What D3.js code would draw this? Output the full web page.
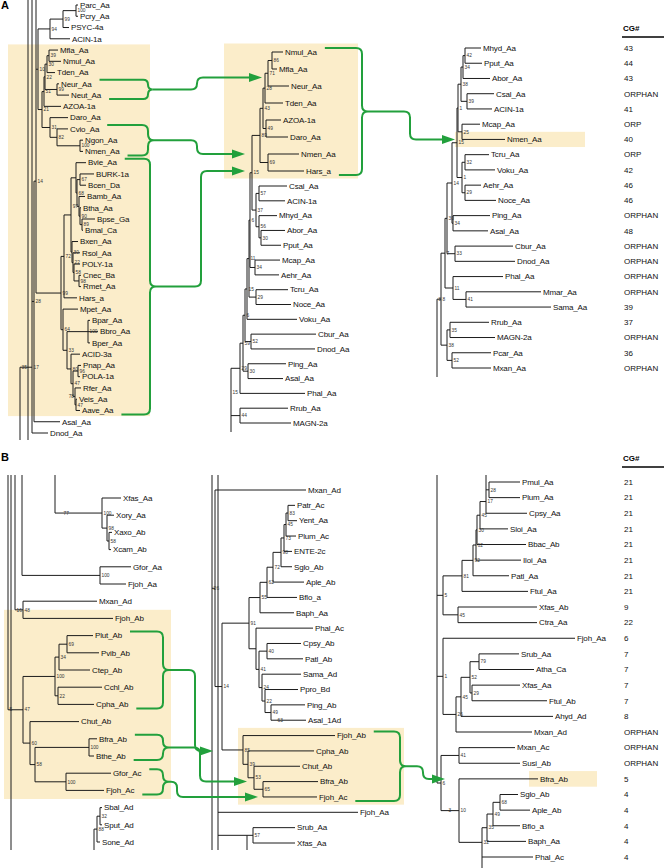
<!DOCTYPE html>
<html>
<head>
<meta charset="utf-8">
<script src="https://cdn.jsdelivr.net/npm/d3@7"></script>
<style>
body { margin: 0; background: #fff; }
text { font-family: "Liberation Sans", Arial, sans-serif; }
.leaf { font-size: 8px; letter-spacing: -0.15px; fill: #111; }
.boot { font-size: 4.8px; fill: #333; }
.cg { font-size: 8px; fill: #111; }
</style>
</head>
<body>
<svg id="fig" width="664" height="868"></svg>
<script>
// Trees are written as Newick. Internal labels are the bootstrap values and the
// number after ":" is the depth of a node.
// "^" and "v" are branches that leave the excerpt at the top / bottom.

// ---- panel A, left tree
var aLeftP94 = "(((Parc_Aa:78,Pcry_Aa:78)100:76,PSYC-4a:69)99:63,ACIN-1a:70)94:50";
var aLeftNeis = "(((((Mfla_Aa:58,Nmul_Aa:61)39:49,Tden_Aa:55)30:47,(Neur_Aa:59,Neut_Aa:69)99:57)22:45,AZOA-1a:61)51:44,(Daro_Aa:68,(Cvio_Aa:68,(Ngon_Aa:83,Nmen_Aa:83)100:80)82:57)31:50)21:42";
var aLeftBurk = "(Bvie_Aa:86,((BURK-1a:94,Bcen_Da:86)67:80,(Bamb_Aa:85,(Btha_Aa:81,(Bpse_Ga:95,Bmal_Ca:83)89:82)90:80)97:79)68:77):76";
var aLeftRals = "(Bxen_Aa:78,(Rsol_Aa:80,(POLY-1a:80,(Cnec_Ba:81,Rmet_Aa:81)98:79)58:74)22:73)30:72";
var aLeftComa = "(Mpet_Aa:78,((Bpar_Aa:90,Bbro_Aa:98,Bper_Aa:90)100:88,(ACID-3a:80,((Pnap_Aa:81,POLA-1a:80)96:78,(Rfer_Aa:81,(Veis_Aa:77,Aave_Aa:80)47:76)78:75)47:73)80:71)33:67)64:63";
var aLeftBeta = "(((" + aLeftBurk + "," + aLeftRals + "):71,Hars_a:77)72:64," + aLeftComa + ")99:61";
var aLeftTrees = [
  "(^,v):28",
  "((^,((^,(" + aLeftP94 + "," + aLeftNeis + ")10:38," + aLeftBeta + ")14:36,Asal_Aa:60)28:34,Dnod_Aa:48)17:32,v)35:20"
];

// ---- panel A, middle tree
var aMidTop = "(((((Nmul_Aa:283,Mfla_Aa:277)86:272,Neur_Aa:289)71:268,Tden_Aa:283)28:265,(AZOA-1a:281,Daro_Aa:288)49:266)43:263,(Nmen_Aa:299,Hars_a:304)69:268)89:260";
var aMidPseu = "((Csal_Aa:287,ACIN-1a:285)57:259,(Mhyd_Aa:277,(Abor_Aa:285,Pput_Aa:281)30:261)56:259)37:256";
var aMidTrees = [
  "((((((((" + aMidTop + "," + aMidPseu + ")15:252,(Mcap_Aa:280,Aehr_Aa:279)34:255)6:250,(Tcru_Aa:288,Noce_Aa:291)29:256)11:249,Voku_Aa:297)15:247,(Cbur_Aa:316,Dnod_Aa:315)52:251)6:245,(Ping_Aa:286,Asal_Aa:283)30:248)59:243,Phal_Aa:305)29:240,(Rrub_Aa:288,MAGN-2a:291)44:240,v)15:231"
];

// ---- panel A, right tree
var aRightUpper = "((((Mhyd_Aa:481,Pput_Aa:482)42:465,Abor_Aa:490)34:463,(Csal_Aa:494,ACIN-1a:492)39:467)38:461,(Mcap_Aa:480,Nmen_Aa:505)25:462)1:458";
var aRightMid = "((Tcru_Aa:489,Voku_Aa:495)32:465,(Aehr_Aa:481,Noce_Aa:496)29:465)1:462";
var aRightTrees = [
  "((((((" + aRightUpper + "," + aRightMid + ")15:457,(Ping_Aa:490,Asal_Aa:488)34:453)14:452,(Cbur_Aa:513,Dnod_Aa:515)33:455)30:447,(Phal_Aa:503,(Mmar_Aa:541,Sama_Aa:551)41:466)11:453)7:445,((Rrub_Aa:489,MAGN-2a:495)35:450,(Pcar_Aa:491,Mxan_Aa:491)52:452)38:447)8:441,v)8:437"
];
var aRightCG = ["43", "44", "43", "ORPHAN", "41", "ORP", "40", "ORP", "42", "46", "46", "ORPHAN",
  "48", "ORPHAN", "ORPHAN", "ORPHAN", "ORPHAN", "39", "37", "ORPHAN", "36", "ORPHAN"];

// ---- panel B, left tree
var bLeftTrees = [
  "(^,v):11",
  "(^,((Xfas_Aa:121,(Xory_Aa:114,(Xaxo_Ab:112,Xcam_Ab:111)58:109)98:107)100:102)77:62):55",
  "(^,(Gfor_Aa:131,Fjoh_Aa:126)100:100):22",
  "(^,(Mxan_Ad:97,Fjoh_Ab:113)48:23)16:15",
  "(^,((((Plut_Ab:93,Pvib_Ab:99)69:67,Ctep_Ab:90)34:59,(Cchl_Ab:102,Cpha_Ab:94)22:58)100:55,(Chut_Ab:79,((Bfra_Ab:97,Bthe_Ab:94)100:89,(Gfor_Ac:111,Fjoh_Ac:104)100:66)58:35)60:30)47:23)5:8",
  "(((Sbal_Ad:102,Sput_Ad:102)32:100,Sone_Ad:100)88:97,v):94"
];

// ---- panel B, middle tree
var bMidEnte = "(((((((Patr_Ac:295,Yent_Aa:297)83:288,Plum_Ac:296)45:286,ENTE-2c:292)73:284,Sglo_Ab:292)98:281,Aple_Ab:304)72:273,Bflo_a:297)62:267,Baph_Aa:294)55:260";
var bMidLower = "(Phal_Ac:313,((Cpsy_Ab:301,Patl_Ab:303)40:267,(Sama_Ad:301,(Ppro_Bd:298,(Ping_Ab:305,(Asal_1Ad:306)63:276)49:271)22:265)24:262)41:259):256";
var bMidBact = "(Fjoh_Ab:335,(Cpha_Ab:314,(Chut_Ab:300,(Bfra_Ab:318,Fjoh_Ac:317)65:263)53:254)39:248)85:243";
var bMidTrees = [
  "(^,(Mxan_Ad:306,((" + bMidEnte + "," + bMidLower + ")91:249," + bMidBact + ")14:222)6:215,v)2:212",
  "(^,Fjoh_Aa:358,((Srub_Aa:295,Xfas_Aa:295)57:253,v):247,v):218"
];

// ---- panel B, right tree
var bRightTop = "((((((^,(Pmul_Aa:520,Plum_Aa:520)28:489,Cpsy_Aa:527)17:486,Sloi_Aa:508)45:480,Bbac_Ab:526)30:477,Iloi_Aa:521)62:476,Patl_Aa:509)92:473,Ftul_Aa:528)81:462";
var bRightN5 = "(" + bRightTop + ",(Xfas_Ab:537,Ctra_Aa:537)45:458)5:443";
var bRightN1 = "(Fjoh_Aa:575,((((Srub_Aa:519,Atha_Ca:534)79:479,(Xfas_Aa:520,Ftul_Ab:547)29:472)52:470,Ahyd_Ad:553)45:461,Mxan_Ad:532)26:456)1:443";
var bRightN6 = "((Mxan_Ac:515,Susi_Ab:520)41:459,((Bfra_Ab:538,((((Sglo_Ab:518,Aple_Ab:530)68:500,Bflo_a:520)49:493,Baph_Aa:526)35:487,Phal_Ac:533,v)32:482)10:459)3:447)6:441";
var bRightTrees = ["(^," + bRightN5 + "," + bRightN1 + "," + bRightN6 + "):437"];
var bRightCG = ["21", "21", "21", "21", "21", "21", "21", "21", "9", "22", "6", "7", "7", "7", "7", "8",
  "ORPHAN", "ORPHAN", "ORPHAN", "5", "4", "4", "4", "4", "4"];

// shaded groups and the green braces linking them
var shaded = [
  { col: "Aleft", first: "Mfla_Aa", last: "Aave_Aa" },
  { col: "Amid", first: "Nmul_Aa", last: "Hars_a" },
  { col: "Aright", first: "Nmen_Aa", last: "Nmen_Aa" },
  { col: "Bleft", first: "Fjoh_Ab", last: "Fjoh_Ac" },
  { col: "Bmid", first: "Fjoh_Ab", last: "Fjoh_Ac" },
  { col: "Bright", first: "Bfra_Ab", last: "Bfra_Ab" }
];
var braces = [
  { col: "Aleft", first: "Neur_Aa", last: "Neut_Aa", to: "Amid", target: ["Mfla_Aa", "Neur_Aa"] },
  { col: "Aleft", first: "Cvio_Aa", last: "Nmen_Aa", to: "Amid", target: ["Nmen_Aa"] },
  { col: "Aleft", first: "Bvie_Aa", last: "Aave_Aa", to: "Amid", target: ["Hars_a"] },
  { col: "Amid", first: "Nmul_Aa", last: "Hars_a", to: "Aright", target: ["Nmen_Aa"] },
  { col: "Bleft", first: "Plut_Ab", last: "Cpha_Ab", to: "Bmid", target: ["Cpha_Ab"] },
  { col: "Bleft", first: "Bfra_Ab", last: "Bthe_Ab", to: "Bmid", target: ["Bfra_Ab"] },
  { col: "Bleft", first: "Gfor_Ac", last: "Fjoh_Ac", to: "Bmid", target: ["Fjoh_Ac"] },
  { col: "Bmid", first: "Fjoh_Ab", last: "Fjoh_Ac", to: "Bright", target: ["Bfra_Ab"] }
];

// ---------------- layout ----------------
var W = 664, H = 868;
var GREEN = "#22a03c", SHADE = "#fbedca", INK = "#1c1c1c";

var columns = {
  Aleft:  { trees: aLeftTrees,  rows: [0, 38],        ys: [5, 433],             top: 0,   bottom: 440 },
  Amid:   { trees: aMidTrees,   rows: [0, 7, 8, 24],  ys: [52, 171, 186, 423],  top: 40,  bottom: 432 },
  Aright: { trees: aRightTrees, rows: [0, 21],        ys: [48, 368],            top: 40,  bottom: 377, cg: aRightCG },
  Bleft:  { trees: bLeftTrees,  rows: [0, 20],        ys: [498, 842],           top: 475, bottom: 850 },
  Bmid:   { trees: bMidTrees,   rows: [0, 23],        ys: [490, 843],           top: 475, bottom: 850 },
  Bright: { trees: bRightTrees, rows: [0, 24],        ys: [482, 857],           top: 475, bottom: 868, cg: bRightCG }
};
var shadeX = { Aleft: [8, 150], Amid: [224, 358], Aright: [455, 585], Bleft: [4, 171], Bmid: [238, 404], Bright: [529, 597] };
var braceLayout = [
  { brace: 148, elbow: 197, tip: 262 },
  { brace: 148, elbow: 197, tip: 245 },
  { brace: 150, elbow: 201, tip: 245 },
  { brace: 362, elbow: 410, tip: 455 },
  { brace: 163, elbow: 195, tip: 213 },
  { brace: 163, elbow: 200, tip: 247 },
  { brace: 163, elbow: 177, tip: 258 },
  { brace: 400, elbow: 423, tip: 445 }
];

function parseNewick(s) {
  var i = 0;
  function read() {
    var n = {};
    if (s[i] === "(") {
      i++;
      n.children = [];
      for (;;) {
        n.children.push(read());
        if (s[i++] === ")") break;
      }
    }
    var m = /^[^:,()]*/.exec(s.slice(i))[0];
    i += m.length;
    n.name = m;
    if (s[i] === ":") {
      i++;
      var d = /^[0-9.]+/.exec(s.slice(i))[0];
      i += d.length;
      n.depth = +d;
    }
    return n;
  }
  return read();
}

var svg = d3.select("#fig");
var x = d3.scaleLinear().domain([0, W]).range([0, W]);
var gShade = svg.append("g");
var gTree = svg.append("g").attr("stroke", INK).attr("stroke-width", 1).attr("fill", "none");
var gText = svg.append("g");
var gGreen = svg.append("g");

function seg(x1, y1, x2, y2) {
  gTree.append("line").attr("x1", x1).attr("y1", y1).attr("x2", x2).attr("y2", y2);
}
function hits(a, list) {
  return list.some(function(b) {
    return a.x0 < b.x1 && b.x0 < a.x1 && a.y0 < b.y1 && b.y0 < a.y1;
  });
}

Object.keys(columns).forEach(function(key) {
  var col = columns[key];
  var y = d3.scaleLinear().domain(col.rows).range(col.ys);
  col.y = y;
  col.leaf = {};
  var k = 0, boxes = [], labelled = [];
  col.trees.forEach(function(str) {
    var root = d3.hierarchy(parseNewick(str));
    root.leaves().forEach(function(l) {
      if (l.data.name === "^" || l.data.name === "v") { l.stub = l.data.name; return; }
      l.idx = k++;
      l.y = y(l.idx);
      col.leaf[l.data.name] = l;
    });
    root.eachAfter(function(n) {
      if (!n.children) return;
      n.real = n.children.filter(function(c) { return !c.stub; });
      if (n.real.length) n.y = (n.real[0].y + n.real[n.real.length - 1].y) / 2;
    });
    root.each(function(n) {
      if (!n.children) return;
      var nx = x(n.data.depth);
      var up = n.children.some(function(c) { return c.stub === "^"; });
      var down = n.children.some(function(c) { return c.stub === "v"; });
      var ys = n.real.map(function(c) { return c.y; });
      var y0 = up ? col.top : d3.min(ys), y1 = down ? col.bottom : d3.max(ys);
      if (y0 !== undefined && y1 !== undefined && y1 > y0) seg(nx, y0, nx, y1);
      n.real.forEach(function(c) { seg(nx, c.y, x(c.data.depth), c.y); });
      if (n.data.name && n.real.length) labelled.push(n);
    });
    root.leaves().forEach(function(l) {
      if (l.stub) return;
      var lx = x(l.data.depth) + 2;
      var t = gText.append("text").attr("class", "leaf")
        .attr("x", lx).attr("y", l.y).attr("dy", "0.35em").text(l.data.name);
      l.end = lx + t.node().getComputedTextLength();
      boxes.push({ x0: lx, x1: l.end, y0: l.y - 3, y1: l.y + 3.5 });
    });
  });
  // bootstrap values: right of the node, moved to the left when they would hit a name
  labelled.forEach(function(n) {
    var nx = x(n.data.depth), w = n.data.name.length * 2.7;
    var right = { x0: nx + 1.5, x1: nx + 1.5 + w, y0: n.y - 1.8, y1: n.y + 1.8 };
    var left = { x0: nx - 1 - w, x1: nx - 1, y0: n.y - 1.8, y1: n.y + 1.8 };
    var useLeft = hits(right, boxes) && !hits(left, boxes);
    var b = useLeft ? left : right;
    boxes.push(b);
    gText.append("text").attr("class", "boot")
      .attr("x", useLeft ? nx - 1 : nx + 1.5).attr("y", n.y + 1.7)
      .attr("text-anchor", useLeft ? "end" : "start").text(n.data.name);
  });
  col.n = k;
  if (col.cg) {
    col.cg.forEach(function(v, i) {
      gText.append("text").attr("class", "cg").attr("x", 624).attr("y", y(i)).attr("dy", "0.35em").text(v);
    });
  }
});

// shading behind the grouped taxa
shaded.forEach(function(s) {
  var col = columns[s.col];
  var yA = col.y(col.leaf[s.first].idx - 0.5), yB = col.y(col.leaf[s.last].idx + 0.5);
  gShade.append("rect").attr("x", shadeX[s.col][0]).attr("y", yA)
    .attr("width", shadeX[s.col][1] - shadeX[s.col][0]).attr("height", yB - yA)
    .attr("fill", SHADE);
});

// green braces and arrows
braces.forEach(function(b, i) {
  var col = columns[b.col], lay = braceLayout[i];
  var f = col.leaf[b.first], l = col.leaf[b.last];
  var yT = f.y - 4, yB = l.y + 4, bx = lay.brace;
  var xa = Math.min(f.end + 8, bx - 10), xb = Math.min(l.end + 8, bx - 10);
  var r = Math.min(6, (yB - yT) / 4), ym = (yT + yB) / 2;
  var p = d3.path();
  p.moveTo(xa, yT); p.lineTo(bx - r, yT);
  p.quadraticCurveTo(bx, yT, bx, yT + r); p.lineTo(bx, ym - r);
  p.quadraticCurveTo(bx, ym, bx + r, ym);
  p.quadraticCurveTo(bx, ym, bx, ym + r); p.lineTo(bx, yB - r);
  p.quadraticCurveTo(bx, yB, bx - r, yB); p.lineTo(xb, yB);
  gGreen.append("path").attr("d", p.toString()).attr("fill", "none")
    .attr("stroke", GREEN).attr("stroke-width", 2);

  var to = columns[b.to];
  var yt = d3.mean(b.target, function(t) { return to.leaf[t].y; });
  var ex = lay.elbow, head = 13;
  var a = d3.path();
  a.moveTo(bx + r, ym);
  if (Math.abs(yt - ym) < 1) {
    a.lineTo(lay.tip - head + 1, ym);
  } else {
    var s = yt > ym ? 1 : -1, r2 = Math.min(6, Math.abs(yt - ym) / 2);
    a.lineTo(ex - r2, ym);
    a.quadraticCurveTo(ex, ym, ex, ym + s * r2);
    a.lineTo(ex, yt - s * r2);
    a.quadraticCurveTo(ex, yt, ex + r2, yt);
    a.lineTo(lay.tip - head + 1, yt);
  }
  gGreen.append("path").attr("d", a.toString()).attr("fill", "none")
    .attr("stroke", GREEN).attr("stroke-width", 2);
  gGreen.append("path")
    .attr("d", "M" + lay.tip + "," + yt + "L" + (lay.tip - head) + "," + (yt - 4.5) + "L" + (lay.tip - head) + "," + (yt + 4.5) + "Z")
    .attr("fill", GREEN);
});

// panel letters and CG# headers
[["A", 9], ["B", 461]].forEach(function(d) {
  svg.append("text").attr("x", 1).attr("y", d[1]).attr("font-size", 11).attr("font-weight", "bold").text(d[0]);
});
[[28, 37], [458, 467]].forEach(function(d) {
  svg.append("text").attr("x", 623).attr("y", d[0]).attr("dy", "0.35em").attr("font-size", 8)
    .attr("font-weight", "bold").text("CG#");
  svg.append("line").attr("x1", 622).attr("x2", 664).attr("y1", d[1]).attr("y2", d[1])
    .attr("stroke", "#000").attr("stroke-width", 1.5);
});
</script>
</body>
</html>
